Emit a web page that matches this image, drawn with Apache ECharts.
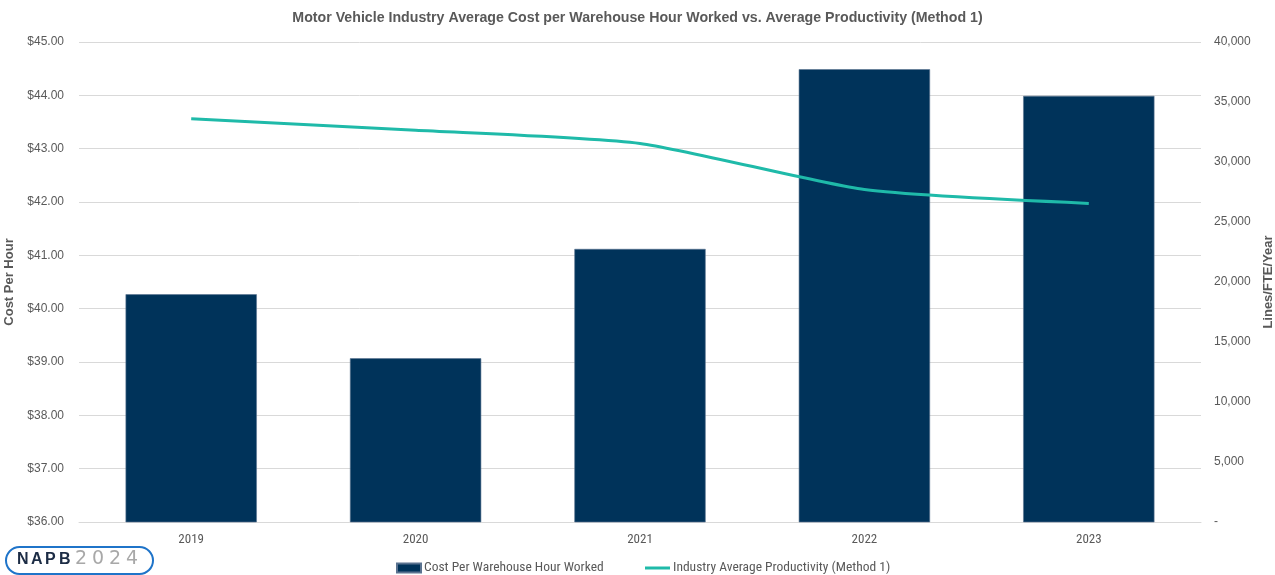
<!DOCTYPE html>
<html>
<head>
<meta charset="utf-8">
<script src="https://cdn.jsdelivr.net/npm/echarts@6/dist/echarts.min.js"></script>
<style>
html,body{margin:0;padding:0;background:#fff;}
#chart{width:1275px;height:575px;}
</style>
</head>
<body>
<div id="chart"></div>
<script>
var categories = ['2019', '2020', '2021', '2022', '2023'];
var costPerHour = [40.27, 39.07, 41.12, 44.49, 43.99];
var productivity = [33600, 32650, 31550, 27700, 26550];
var leftTicks = [36, 37, 38, 39, 40, 41, 42, 43, 44, 45];
var rightTicks = [0, 5000, 10000, 15000, 20000, 25000, 30000, 35000, 40000];

var narrow = "'Liberation Sans Narrow', 'Roboto Condensed', 'Arial Narrow', sans-serif";
var sans = "'Liberation Sans', Arial, sans-serif";

var logoGraphics = [
  {
    type: 'rect',
    left: 5, top: 546,
    shape: { width: 147, height: 27, r: 13.5 },
    style: { fill: '#fff', stroke: '#1f74c9', lineWidth: 2 }
  }
];
var napb = ['N', 'A', 'P', 'B'];
var napbX = [17, 31, 45, 59];
napb.forEach(function (ch, i) {
  logoGraphics.push({ type: 'text', left: napbX[i], top: 552,
    style: { text: ch, fontFamily: sans, fontSize: 16, fontWeight: 'bold', fill: '#1c2c45' } });
});
var yr = ['2', '0', '2', '4'];
var yrX = [75, 92, 109, 126];
yr.forEach(function (ch, i) {
  logoGraphics.push({ type: 'text', left: yrX[i], top: 550,
    style: { text: ch, fontFamily: "'DejaVu Sans', sans-serif", fontSize: 19, fontWeight: 'normal', fill: '#a8a8a8' } });
});

var chart = echarts.init(document.getElementById('chart'));
chart.setOption({
  backgroundColor: '#fff',
  animation: false,
  title: {
    text: 'Motor Vehicle Industry Average Cost per Warehouse Hour Worked vs. Average Productivity (Method 1)',
    left: 'center',
    top: 6,
    textStyle: { fontFamily: sans, fontSize: 14.2, fontWeight: 'bold', color: '#595959' }
  },
  legend: [
    {
      left: 391,
      top: 556,
      itemWidth: 24,
      itemHeight: 9,
      itemGap: 4,
      textStyle: { fontFamily: narrow, fontSize: 13.5, color: '#595959', padding: [0, 0, 0, -2] },
      data: [{ name: 'Cost Per Warehouse Hour Worked', icon: 'rect' }]
    },
    {
      left: 640,
      top: 556,
      itemWidth: 25,
      itemHeight: 3,
      textStyle: { fontFamily: narrow, fontSize: 13.5, color: '#595959', padding: [0, 0, 0, -2] },
      data: [{ name: 'Industry Average Productivity (Method 1)', icon: 'rect' }]
    }
  ],
  grid: { left: 79, right: 74, top: 42, bottom: 53, outerBoundsMode: 'none', containLabel: false },
  xAxis: {
    type: 'category',
    data: categories,
    axisLine: { show: true, lineStyle: { color: '#d9d9d9' } },
    axisTick: { show: false },
    axisLabel: { fontFamily: narrow, fontSize: 13, color: '#595959', margin: 11 }
  },
  yAxis: [
    {
      type: 'value',
      min: leftTicks[0],
      max: leftTicks[leftTicks.length - 1],
      interval: 1,
      name: 'Cost Per Hour',
      nameLocation: 'middle',
      nameGap: 60,
      nameTextStyle: { fontFamily: sans, fontSize: 13, fontWeight: 'bold', color: '#595959' },
      axisLine: { show: false },
      axisTick: { show: false },
      splitLine: { lineStyle: { color: '#d9d9d9', width: 1 } },
      axisLabel: {
        fontFamily: sans, fontSize: 12, color: '#595959', margin: 15,
        formatter: function (v) { return '$' + v.toFixed(2); }
      }
    },
    {
      type: 'value',
      min: rightTicks[0],
      max: rightTicks[rightTicks.length - 1],
      interval: 5000,
      name: 'Lines/FTE/Year',
      nameLocation: 'middle',
      nameGap: 60,
      nameRotate: 90,
      nameTextStyle: { fontFamily: sans, fontSize: 13, fontWeight: 'bold', color: '#595959' },
      axisLine: { show: false },
      axisTick: { show: false },
      splitLine: { show: false },
      axisLabel: {
        fontFamily: sans, fontSize: 12, color: '#595959', margin: 13,
        formatter: function (v) { return v === 0 ? '-' : v.toLocaleString('en-US'); }
      }
    }
  ],
  series: [
    {
      name: 'Cost Per Warehouse Hour Worked',
      type: 'bar',
      data: costPerHour,
      barWidth: '58.5%',
      itemStyle: { color: '#00335a', borderColor: '#5a7390', borderWidth: 0.6 },
      yAxisIndex: 0
    },
    {
      name: 'Industry Average Productivity (Method 1)',
      type: 'line',
      data: productivity,
      yAxisIndex: 1,
      smooth: 0.2,
      symbol: 'none',
      lineStyle: { color: '#1fbaa9', width: 3 },
      itemStyle: { color: '#1fbaa9' }
    }
  ],
  graphic: logoGraphics
});
</script>
</body>
</html>
